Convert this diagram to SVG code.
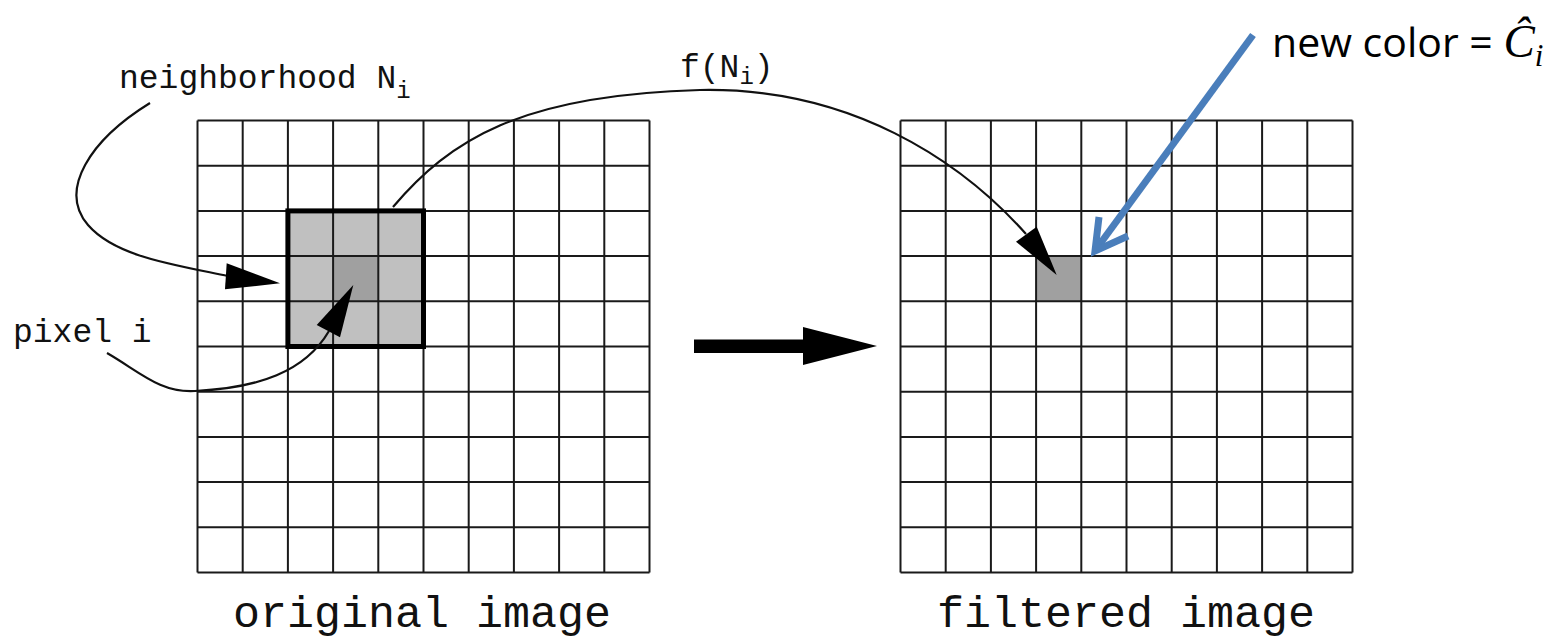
<svg xmlns="http://www.w3.org/2000/svg" width="1565" height="639" viewBox="0 0 1565 639">
<defs>
<style>
.grid{fill:none;stroke:#1a1a1a;stroke-width:2}
.mono{font-family:"Liberation Mono","DejaVu Sans Mono",monospace;fill:#111}
.curve{fill:none;stroke:#111;stroke-width:2.2}
.head{fill:#000}
.blue{fill:none;stroke:#4a7ebb;stroke-width:7}
</style>
</defs>
<rect width="1565" height="639" fill="#fff"/>
<g id="original-image">
<rect x="287.9" y="210.9" width="135.6" height="135.6" fill="#c0c0c0"/>
<rect x="333.1" y="256.1" width="45.2" height="45.2" fill="#a0a0a0"/>
<path class="grid" d="M197.5,120.5V572.5M242.7,120.5V572.5M287.9,120.5V572.5M333.1,120.5V572.5M378.3,120.5V572.5M423.5,120.5V572.5M468.7,120.5V572.5M513.9,120.5V572.5M559.1,120.5V572.5M604.3,120.5V572.5M649.5,120.5V572.5M197.5,120.5H649.5M197.5,165.7H649.5M197.5,210.9H649.5M197.5,256.1H649.5M197.5,301.3H649.5M197.5,346.5H649.5M197.5,391.7H649.5M197.5,436.9H649.5M197.5,482.1H649.5M197.5,527.3H649.5M197.5,572.5H649.5"/>
<rect x="287.9" y="210.9" width="135.6" height="135.6" fill="none" stroke="#000" stroke-width="5"/>
<text class="mono" x="233" y="627" font-size="45">original image</text>
</g>
<g id="filtered-image">
<rect x="1036.1" y="256.1" width="45.2" height="45.2" fill="#a0a0a0"/>
<path class="grid" d="M900.5,120.5V572.5M945.7,120.5V572.5M990.9,120.5V572.5M1036.1,120.5V572.5M1081.3,120.5V572.5M1126.5,120.5V572.5M1171.7,120.5V572.5M1216.9,120.5V572.5M1262.1,120.5V572.5M1307.3,120.5V572.5M1352.5,120.5V572.5M900.5,120.5H1352.5M900.5,165.7H1352.5M900.5,210.9H1352.5M900.5,256.1H1352.5M900.5,301.3H1352.5M900.5,346.5H1352.5M900.5,391.7H1352.5M900.5,436.9H1352.5M900.5,482.1H1352.5M900.5,527.3H1352.5M900.5,572.5H1352.5"/>
<text class="mono" x="937" y="627" font-size="45">filtered image</text>
</g>
<g id="label-neighborhood">
<text class="mono" x="119" y="88" font-size="33">neighborhood N<tspan font-size="24" dy="10">i</tspan></text>
</g>
<g id="label-pixel">
<text class="mono" x="13" y="342" font-size="33">pixel i</text>
</g>
<g id="label-f">
<text class="mono" x="680" y="77" font-size="33">f(N<tspan font-size="24" dy="7">i</tspan><tspan dy="-7">)</tspan></text>
</g>
<g id="label-new-color">
<text x="1272" y="57" font-family="'Open Sans','Liberation Sans',sans-serif" font-size="41" fill="#000">new color = <tspan font-family="'Liberation Serif',serif" font-style="italic" font-size="47">Ĉ</tspan><tspan font-family="'Liberation Serif',serif" font-style="italic" font-size="31" dy="9">i</tspan></text>
</g>
<g id="connectors">
<path class="curve" d="M150,103 C90,140 58,190 88,225 C115,256 170,264 228,276"/>
<polygon class="head" points="226.7,263.3 280,283.3 225,289.3"/>
<path class="curve" d="M107,353 C140,372 160,393 195,391 C258,388 305,372 329,331"/>
<polygon class="head" points="316.7,325 353.3,285 340,337.3"/>
<path class="curve" d="M393,207 C450,140 520,95 700,90 C850,87 960,160 1026,234"/>
<polygon class="head" points="1016,241.7 1056.7,275 1036.7,226.7"/>
<polygon class="head" points="694,339.5 803,339.5 803,327 877,346 803,365 803,353 694,353"/>
<line class="blue" x1="1253" y1="35" x2="1097" y2="248"/>
<polyline class="blue" points="1099,217 1095,251 1128,236" stroke-linejoin="miter"/>
</g>
</svg>
